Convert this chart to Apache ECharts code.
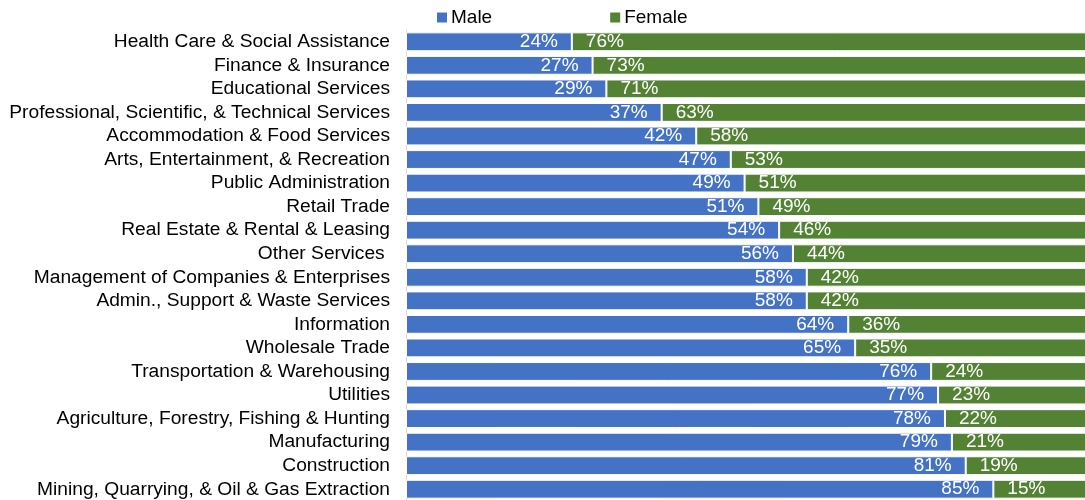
<!DOCTYPE html>
<html>
<head>
<meta charset="utf-8">
<title>Gender by industry</title>
<script src="https://cdn.jsdelivr.net/npm/echarts@6/dist/echarts.min.js"></script>
<style>
  html, body { margin: 0; padding: 0; background: #fff; overflow: hidden; }
  #chart { width: 1097px; height: 501px; }
</style>
</head>
<body>
<div id="chart"></div>
<script>
var industries = [
  'Health Care & Social Assistance',
  'Finance & Insurance',
  'Educational Services',
  'Professional, Scientific, & Technical Services',
  'Accommodation & Food Services',
  'Arts, Entertainment, & Recreation',
  'Public Administration',
  'Retail Trade',
  'Real Estate & Rental & Leasing',
  'Other Services ',
  'Management of Companies & Enterprises',
  'Admin., Support & Waste Services',
  'Information',
  'Wholesale Trade',
  'Transportation & Warehousing',
  'Utilities',
  'Agriculture, Forestry, Fishing & Hunting',
  'Manufacturing',
  'Construction',
  'Mining, Quarrying, & Oil & Gas Extraction'
];
var male = [24, 27, 29, 37, 42, 47, 49, 51, 54, 56, 58, 58, 64, 65, 76, 77, 78, 79, 81, 85];
var female = [76, 73, 71, 63, 58, 53, 51, 49, 46, 44, 42, 42, 36, 35, 24, 23, 22, 21, 19, 15];

var myChart = echarts.init(document.getElementById('chart'));
var labelFont = 'Liberation Sans, Arial, sans-serif';

option = {
    animation: false,
    legend: {
        data: ['Male', 'Female'],
        left: 432,
        top: 3,
        icon: 'rect',
        itemWidth: 10,
        itemHeight: 10,
        itemGap: 118,
        itemStyle: { borderWidth: 0 },
        textStyle: { fontFamily: labelFont, fontSize: 19, color: '#000', padding: [0, 0, 0, -1] }
    },
    grid: {
        left: 406,
        right: 0,
        top: 30,
        bottom: 0
    },
    xAxis: {
        type: 'value',
        min: 0,
        max: 100,
        show: false
    },
    yAxis: {
        type: 'category',
        inverse: true,
        data: industries,
        axisTick: { show: false },
        axisLine: { lineStyle: { color: '#d9d9d9' } },
        axisLabel: { interval: 0, fontFamily: labelFont, fontSize: 19.2, color: '#000', margin: 16 }
    },
    series: [
        {
            name: 'Male',
            type: 'bar',
            stack: 'total',
            barWidth: '80%',
            data: male,
            itemStyle: { color: '#4472c4', borderColor: '#fff', borderWidth: 1 },
            label: {
                show: true,
                position: 'insideRight',
                distance: 14,
                formatter: '{c}%',
                color: '#fff',
                fontFamily: labelFont,
                fontSize: 19
            }
        },
        {
            name: 'Female',
            type: 'bar',
            stack: 'total',
            data: female,
            itemStyle: { color: '#548235', borderColor: '#fff', borderWidth: 1 },
            label: {
                show: true,
                position: 'insideLeft',
                distance: 14,
                formatter: '{c}%',
                color: '#fff',
                fontFamily: labelFont,
                fontSize: 19
            }
        }
    ]
};
myChart.setOption(option);
</script>
</body>
</html>
